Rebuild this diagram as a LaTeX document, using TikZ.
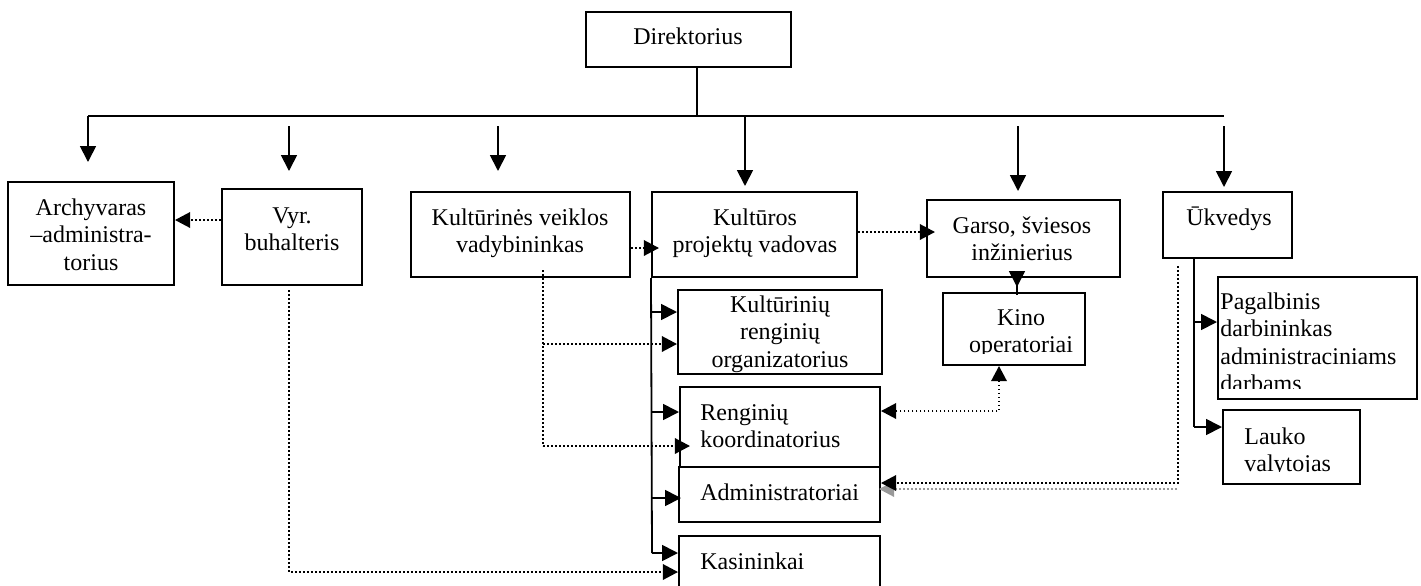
\documentclass[tikz,border=0pt]{standalone}
\usepackage{fontspec}
\setmainfont{Liberation Serif}
\usetikzlibrary{arrows.meta,fit}
\newcommand\mlines[2]{\begin{tabular}[t]{@{}#1@{}}#2\end{tabular}}
\begin{document}
\begin{tikzpicture}[x=0.5pt,y=-0.5pt,
  every node/.style={font=\fontsize{12}{13.8}\selectfont, inner sep=0pt},
  box/.style={draw, line width=1pt, inner sep=0pt, rectangle},
  line/.style={line width=0.9pt},
  arr/.style={line width=0.9pt, -{Triangle[length=8pt,width=8pt]}},
  dline/.style={line width=0.9pt, dash pattern=on 0.8pt off 1.2pt},
  darr/.style={dline, -{Triangle[length=7.6pt,width=7.8pt]}},
  ddarr/.style={dline, {Triangle[length=7.6pt,width=7.8pt]}-{Triangle[length=7.6pt,width=7.8pt]}},
  sdarr/.style={line width=0.9pt, dash pattern=on 0.8pt off 1.2pt, draw=black!40, -{Triangle[length=7.6pt,width=7.8pt]}}
]
\clip (0,0) rectangle (1421,585);

% boxes
\node[box, fit={(586,12)(791,67)}] (dir) {};
\node[box, fit={(8,182)(174,285)}] (arch) {};
\node[box, fit={(222,189)(362,285)}] (vyr) {};
\node[box, fit={(411,192)(630,277)}] (kv) {};
\node[box, fit={(652,192)(857,277)}] (kp) {};
\node[box, fit={(927,200)(1120,277)}] (garso) {};
\node[box, fit={(1163,192)(1292,258)}] (uk) {};
\node[box, fit={(678,290)(882,374)}] (kul) {};
\node[box, fit={(680,387)(880,467)}] (reng) {};
\node[box, fit={(679,467)(880,522)}] (adm) {};
\node[box, fit={(679,536)(880,640)}] (kas) {};
\node[box, fit={(943,293)(1085,365)}] (kino) {};
\node[box, fit={(1218,277)(1417,399)}] (pag) {};
\node[box, fit={(1223,410)(1360,484)}] (lau) {};

% texts
\node[anchor=base] (dirT) at (688,44) {Direktorius};
\node[anchor=base] (archT) at (91,215) {\mlines{c}{Archyvaras\\–administra-\\torius}};
\node[anchor=base] (vyrT) at (292,223) {\mlines{c}{Vyr.\\buhalteris}};
\node[anchor=base] (kvT) at (520,225) {\mlines{c}{Kultūrinės veiklos\\vadybininkas}};
\node[anchor=base] (kpT) at (755,225) {\mlines{c}{Kultūros\\projektų vadovas}};
\node[anchor=base] (garsoT) at (1022,233) {\mlines{c}{Garso, šviesos\\inžinierius}};
\node[anchor=base] (ukT) at (1229,225) {Ūkvedys};
\node[anchor=base] (kulT) at (780,312) {\mlines{c}{Kultūrinių\\renginių\\organizatorius}};
\node[anchor=base west] (rengT) at (700,420) {\mlines{l}{Renginių\\koordinatorius}};
\node[anchor=base west] (admT) at (700,500) {Administratoriai};
\node[anchor=base west] (kasT) at (700,569) {Kasininkai};
\begin{scope}
  \clip (943,293) rectangle (1085,353);
  \node[anchor=base] (kinoT) at (1021,325) {\mlines{c}{Kino\\operatoriai}};
\end{scope}
\begin{scope}
  \clip (1218,277) rectangle (1417,388);
  \node[anchor=base west] (pagT) at (1220,309) {\mlines{l}{Pagalbinis\\darbininkas\\administraciniams\\darbams}};
\end{scope}
\begin{scope}
  \clip (1223,410) rectangle (1360,471);
  \node[anchor=base west] (lauT) at (1244,444) {\mlines{l}{Lauko\\valytojas}};
\end{scope}

% top bus and arrows
\coordinate (busL) at (88,116);
\coordinate (busR) at (1224,116);
\coordinate (stem) at (697,116);
\draw[line] (busL) -- (busR);
\draw[line] (dir.south -| stem) -- (stem);
\draw[arr, shorten >=9.5pt] (busL) -- (busL |- arch.north);
\coordinate (a2) at (289,126);
\draw[arr, shorten >=8.5pt] (a2) -- (a2 |- vyr.north);
\coordinate (a3) at (498,126);
\draw[arr, shorten >=10pt] (a3) -- (a3 |- kv.north);
\coordinate (a4) at (745,116);
\draw[arr, shorten >=2.5pt] (a4) -- (a4 |- kp.north);
\coordinate (a5) at (1018,126);
\draw[arr, shorten >=4pt] (a5) -- (a5 |- garso.north);
\coordinate (a6) at (1224,126);
\draw[arr, shorten >=2pt] (a6) -- (a6 |- uk.north);

% dotted links on top row
\draw[darr] (vyr.west |- 0,220) -- (arch.east |- 0,220);
\draw[darr, shorten >=-4pt] (kv.east |- 0,248) -- (kp.west |- 0,248);
\draw[darr, shorten >=-4.5pt] (kp.east |- 0,232) -- (garso.west |- 0,232);

% Garso -> Kino
\coordinate (g1) at (1017,0);
\draw[arr, shorten <=-8.5pt, shorten >=2.5pt] (garso.south -| g1) -- (kino.north -| g1);

% Kino <-> Renginiu
\coordinate (kn) at (999,411);
\draw[ddarr] (kino.south -| kn) |- (reng.east |- kn);

% Ukvedys dotted to Administratoriai (with shadow)
\coordinate (shd) at (1177,489);
\draw[sdarr, shorten >=-1pt] (shd) -- (adm.east |- shd);
\coordinate (ud) at (1178,483);
\draw[darr, shorten <=3.5pt] (uk.south -| ud) |- (adm.east |- ud);

% Ukvedys solid branches
\coordinate (uk1) at (1194,322);
\coordinate (uk2) at (1194,427);
\draw[line] (uk.south -| uk2) -- (uk2);
\draw[arr] (uk1) -- (pag.west |- uk1);
\draw[arr] (uk2) -- (lau.west |- uk2);

% Kulturos projektu vadovas branches
\coordinate (k1) at (652,312);
\coordinate (k2) at (652,412);
\coordinate (k3) at (652,498);
\coordinate (k4) at (652,553);
\draw[line] (kp.south west) -- (k4);
\draw[arr] (k1) -- (kul.west |- k1);
\draw[arr] (k2) -- (reng.west |- k2);
\draw[arr, shorten >=-1.5pt] (k3) -- (adm.west |- k3);
\draw[arr] (k4) -- (kas.west |- k4);

% Kulturines veiklos vadybininkas dotted
\coordinate (v1) at (543,270);
\coordinate (v2) at (543,344);
\coordinate (v3) at (543,446);
\draw[dline] (v1) -- (v3);
\draw[darr] (v2) -- (kul.west |- v2);
\draw[darr, shorten >=-5.5pt] (v3) -- (reng.west |- v3);

% Vyr. buhalteris dotted to Kasininkai
\coordinate (vb) at (289,572);
\draw[darr, shorten <=2pt] (vyr.south -| vb) |- (kas.west |- vb);
\end{tikzpicture}
\end{document}
